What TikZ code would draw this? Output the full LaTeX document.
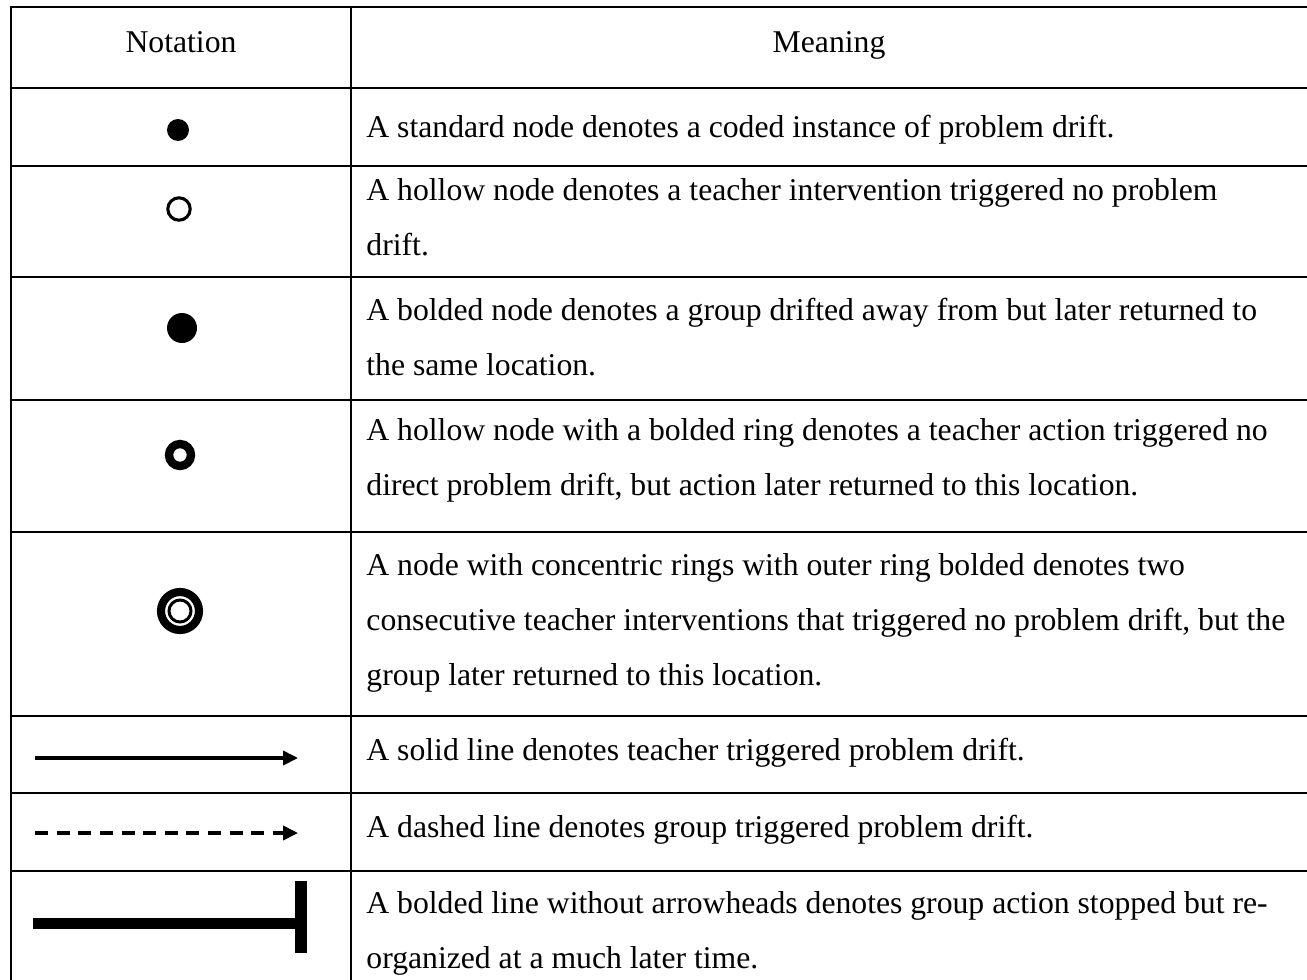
\documentclass[tikz,border=0pt]{standalone}
\usepackage{fontspec}
\setmainfont{Liberation Serif}
\usetikzlibrary{arrows.meta}

\tikzset{
  rule/.style={line width=1.05pt, line cap=rect},
  txt/.style={anchor=base west, inner sep=0pt, font=\fontsize{14.8pt}{17pt}\selectfont},
  head/.style={anchor=base, inner sep=0pt, font=\fontsize{14.8pt}{17pt}\selectfont},
  legline/.style={line width=1.55pt},
  legtip/.style={-{Triangle[length=7pt,width=6.6pt]}},
}

\begin{document}
\begin{tikzpicture}[x=0.467pt,y=-0.467pt]
  \useasboundingbox (0,0) rectangle (1307,979);

  % table rules
  \foreach \yy in {7,88,166,277,400,532,716,793,871}
    \draw[rule] (11,\yy) -- (1310,\yy);
  \draw[rule] (11,7) -- (11,985);
  \draw[rule] (351,7) -- (351,985);

  % header
  \node[head] (hnot) at (181,52) {Notation};
  \node[head] (hmean) at (829,52) {Meaning};

  % row 1: standard node
  \fill (178,130) circle[radius=11];
  \node[txt] (r1a) at (366,137) {A standard node denotes a coded instance of problem drift.};

  % row 2: hollow node
  \draw[line width=1.45pt, fill=white] (179,209) circle[radius=11.2];
  \node[txt] (r2a) at (366,200) {A hollow node denotes a teacher intervention triggered no problem};
  \node[txt] (r2b) at (366,255) {drift.};

  % row 3: bolded node
  \fill (182,328) circle[radius=15];
  \node[txt] (r3a) at (366,320) {A bolded node denotes a group drifted away from but later returned to};
  \node[txt] (r3b) at (366,375) {the same location.};

  % row 4: hollow node with bolded ring
  \draw[line width=3.9pt, fill=white] (180,455) circle[radius=11];
  \node[txt] (r4a) at (366,440) {A hollow node with a bolded ring denotes a teacher action triggered no};
  \node[txt] (r4b) at (366,495) {direct problem drift, but action later returned to this location.};

  % row 5: concentric rings, outer ring bolded
  \draw[line width=3.8pt] (180,611) circle[radius=19];
  \draw[line width=1.4pt] (180,611) circle[radius=11];
  \node[txt] (r5a) at (366,575) {A node with concentric rings with outer ring bolded denotes two};
  \node[txt] (r5b) at (366,630) {consecutive teacher interventions that triggered no problem drift, but the};
  \node[txt] (r5c) at (366,685) {group later returned to this location.};

  % row 6: solid line
  \coordinate (s6a) at (35,758);
  \coordinate (s6b) at (298,758);
  \draw[legline, legtip] (s6a) -- (s6b);
  \node[txt] (r6a) at (366,760) {A solid line denotes teacher triggered problem drift.};

  % row 7: dashed line
  \coordinate (s7a) at (35,833);
  \coordinate (s7b) at (298,833);
  \draw[legline, legtip, dash pattern=on 6.1pt off 4pt] (s7a) -- (s7b);
  \node[txt] (r7a) at (366,837) {A dashed line denotes group triggered problem drift.};

  % row 8: bolded line ending in a bar
  \coordinate (s8a) at (33,923.5);
  \coordinate (s8b) at (301,923.5);
  \coordinate (s8t) at (301,881);
  \coordinate (s8u) at (301,953);
  \draw[line width=5.45pt] (s8a) -- (s8b);
  \draw[line width=5.45pt] (s8t) -- (s8u);
  \node[txt] (r8a) at (366,913) {A bolded line without arrowheads denotes group action stopped but re-};
  \node[txt] (r8b) at (366,968) {organized at a much later time.};
\end{tikzpicture}
\end{document}
